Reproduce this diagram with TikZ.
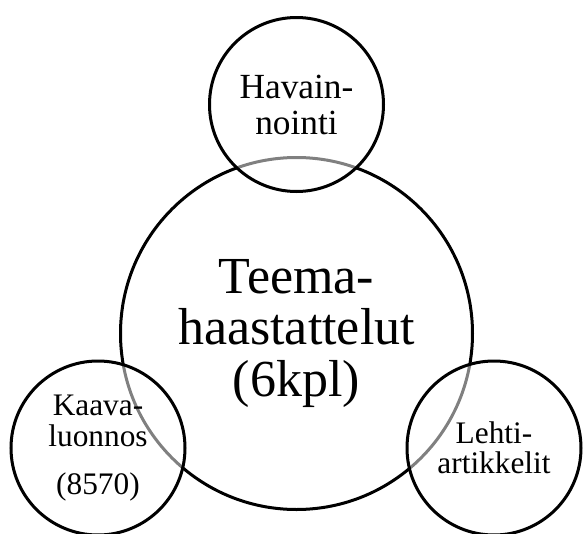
\documentclass[tikz,border=0pt]{standalone}
\usepackage{fontspec}
\setmainfont{Liberation Serif}
\usepackage{tikz}

\tikzset{
	ring/.style={circle,draw=black,line width=2.25pt,inner sep=0pt,align=center},
	bigring/.style={ring,minimum size=264pt,font=\fontsize{39}{38.3}\selectfont},
	smallring/.style={ring,minimum size=130.5pt,fill=white,fill opacity=0.5,text opacity=1}
}

\begin{document}
\begin{tikzpicture}[x=0.75pt,y=-0.75pt]
	\useasboundingbox (0,0) rectangle (583,533);
	% main circle first, the small ones are laid over it
	\node[bigring] (teema) at (296.5,333.5) {Teema-\\haastattelut\\(6kpl)};
	\node[smallring,font=\fontsize{26.5}{27}\selectfont] (havainto) at (296.5,104.5) {Havain-\\nointi};
	\node[smallring,font=\fontsize{23.5}{23.5}\selectfont] (kaava) at (98,448) {Kaava-\\luonnos\\[12pt](8570)};
	\node[smallring,font=\fontsize{23.5}{22.5}\selectfont] (lehti) at (494,448) {Lehti-\\artikkelit};
\end{tikzpicture}
\end{document}
